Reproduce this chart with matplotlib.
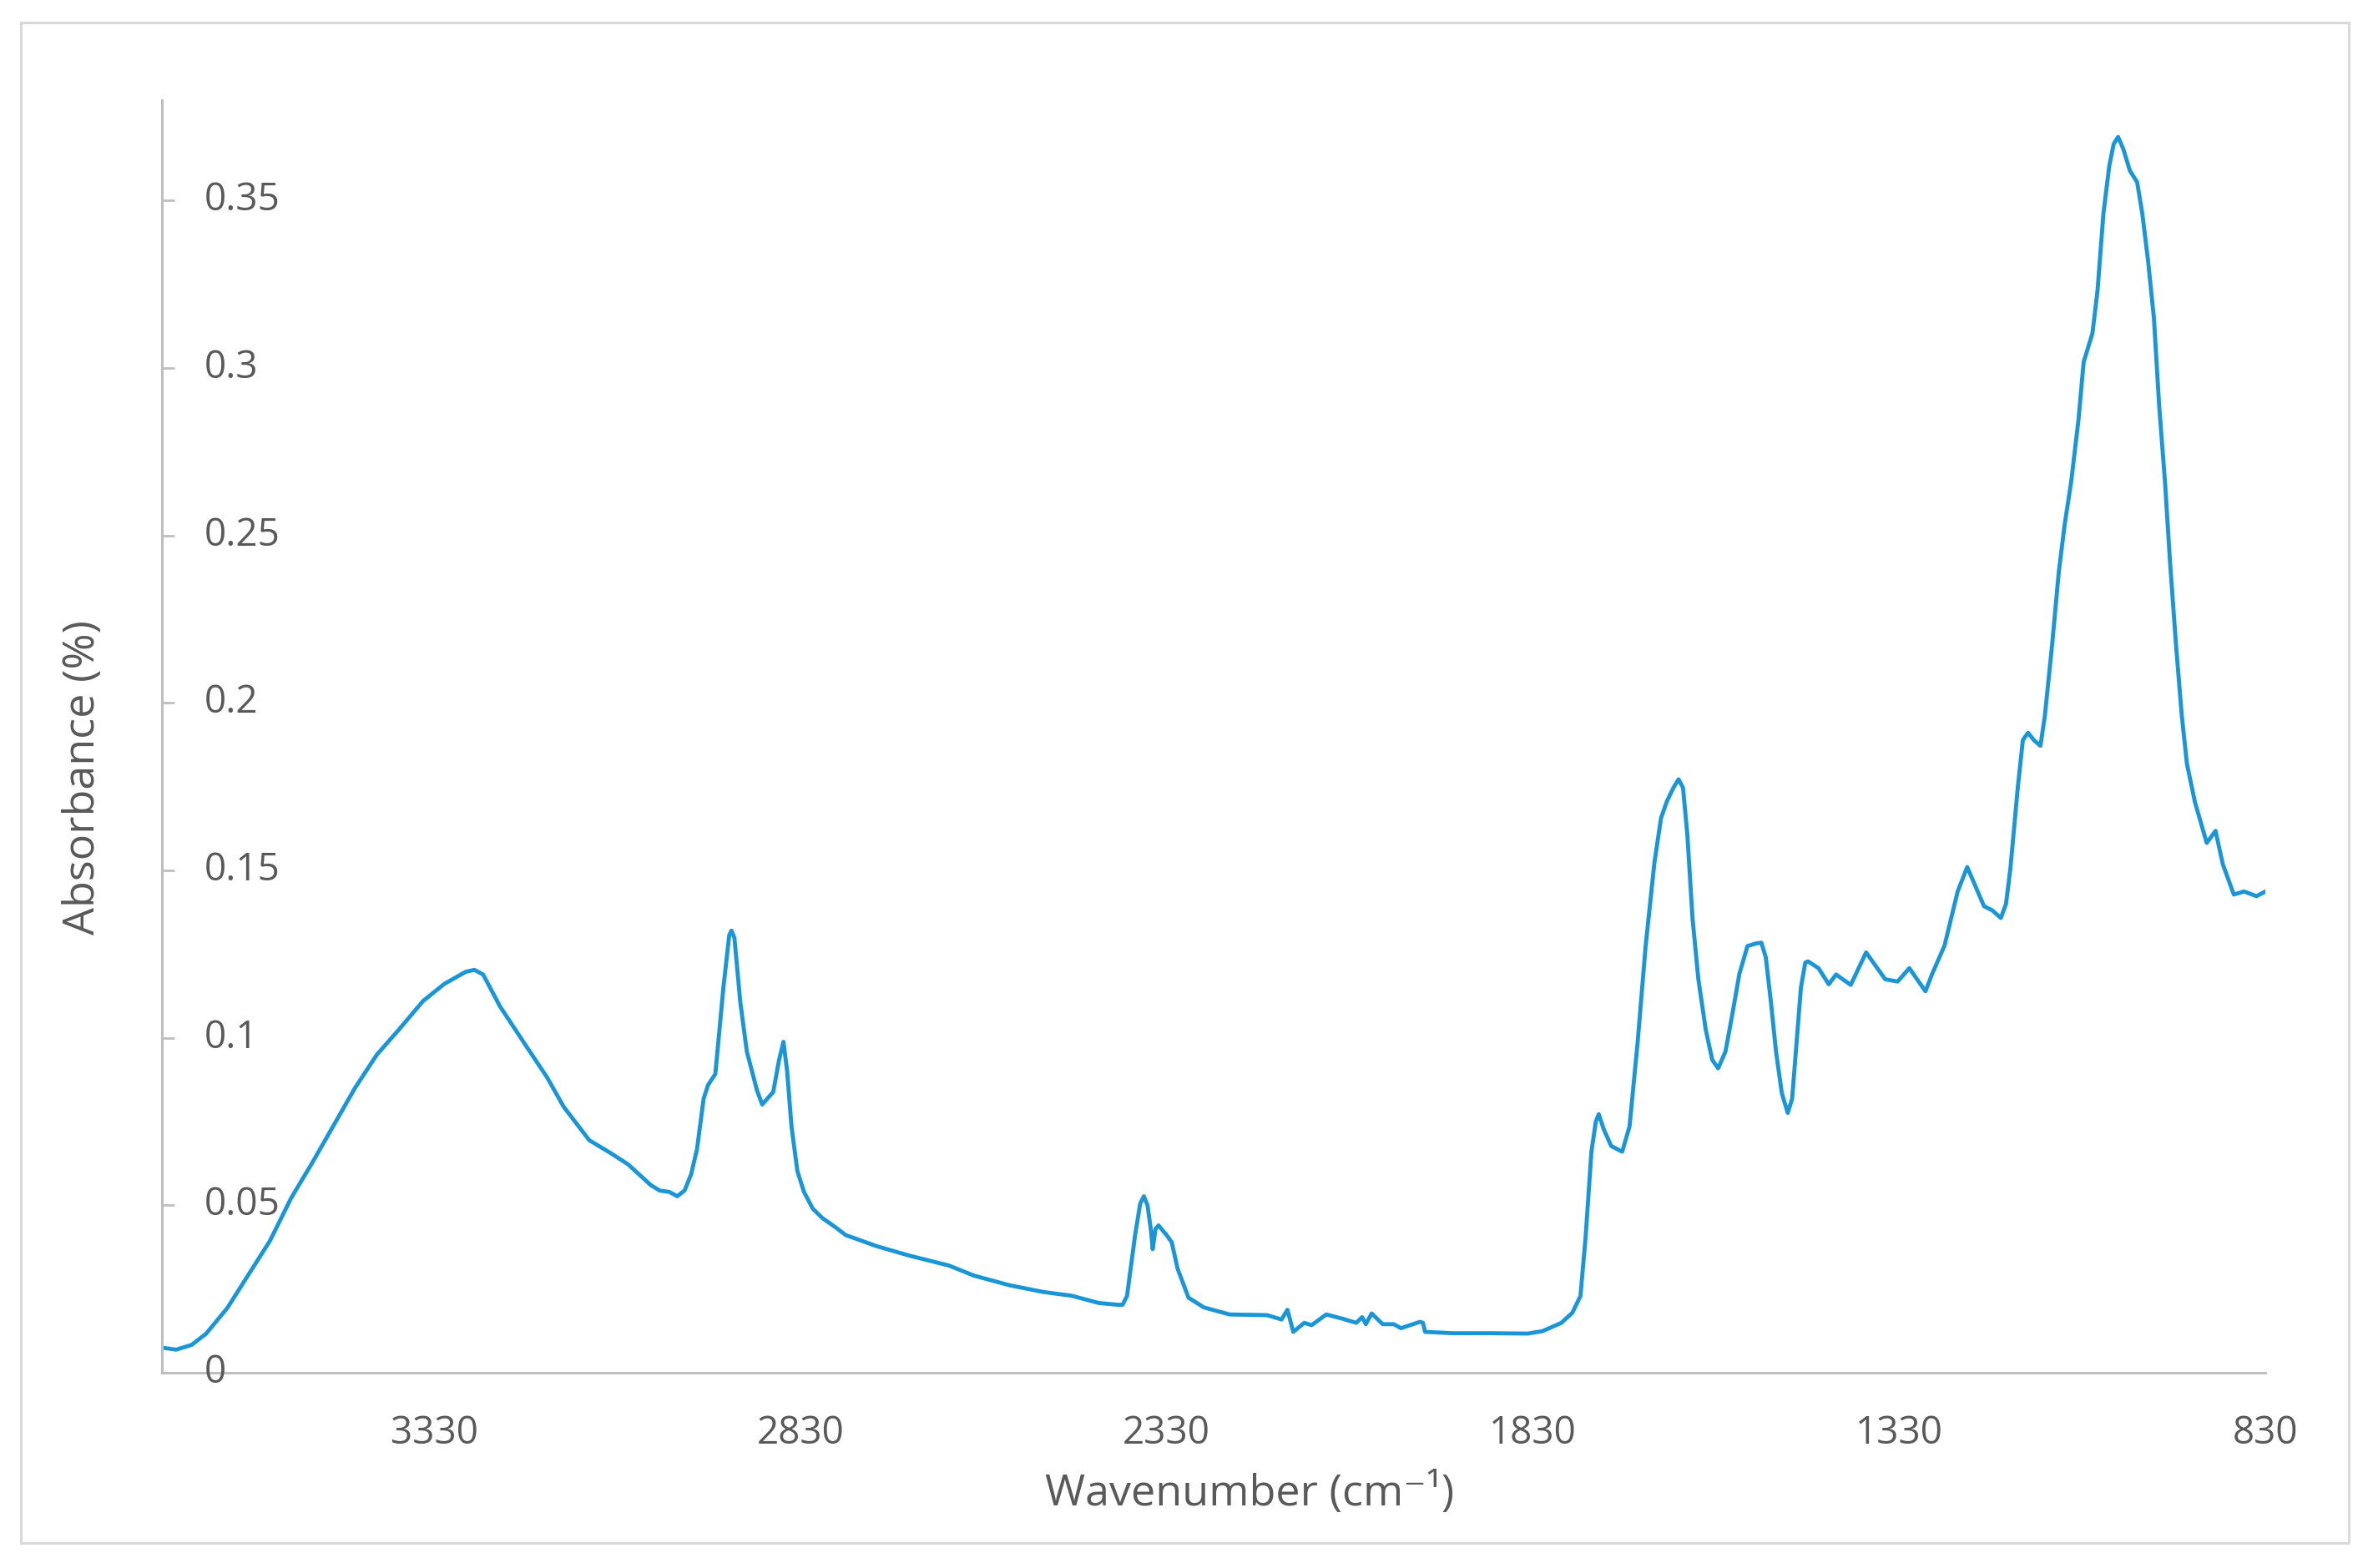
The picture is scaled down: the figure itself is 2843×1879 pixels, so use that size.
import matplotlib
matplotlib.use("Agg")
import matplotlib.pyplot as plt
import matplotlib.transforms as mtransforms
from matplotlib.patches import Rectangle

# FTIR spectrum (cm-1, absorbance)
wavenumber = [
    3699, 3682, 3661, 3641, 3612, 3583, 3554, 3525, 3496, 3467, 3438, 3408,
    3379, 3345, 3316, 3287, 3275, 3263, 3240, 3205, 3176, 3153, 3118, 3089,
    3065, 3034, 3022, 3009, 2998, 2988, 2979, 2971, 2962, 2956, 2946, 2935,
    2927, 2924, 2920, 2912, 2903, 2889, 2882, 2872, 2867, 2859, 2853, 2848,
    2842, 2834, 2825, 2813, 2800, 2783, 2768, 2726, 2680, 2627, 2593, 2544,
    2498, 2460, 2422, 2397, 2390, 2384, 2373, 2366, 2361, 2356, 2351, 2349,
    2345, 2341, 2330, 2323, 2315, 2300, 2279, 2244, 2193, 2173, 2165, 2157,
    2142, 2132, 2112, 2091, 2071, 2063, 2058, 2050, 2035, 2020, 2010, 1984,
    1980, 1977, 1939, 1888, 1837, 1817, 1791, 1776, 1765, 1758, 1750, 1744,
    1740, 1733, 1723, 1708, 1698, 1687, 1676, 1664, 1655, 1647, 1638, 1631,
    1625, 1619, 1612, 1604, 1594, 1585, 1577, 1567, 1558, 1548, 1537, 1525,
    1518, 1512, 1505, 1498, 1490, 1482, 1476, 1470, 1464, 1458, 1454, 1440,
    1426, 1416, 1396, 1375, 1349, 1332, 1316, 1294, 1285, 1268, 1250, 1237,
    1214, 1203, 1191, 1184, 1178, 1168, 1161, 1154, 1146, 1137, 1131, 1121,
    1112, 1104, 1095, 1085, 1078, 1066, 1059, 1051, 1043, 1037, 1031, 1024,
    1015, 1005, 998, 990, 982, 975, 967, 960, 952, 944, 937, 926,
    910, 898, 888, 873, 859, 842, 830,
]
absorbance = [
    0.0074, 0.0069, 0.0083, 0.0117, 0.0194, 0.0294, 0.0394, 0.0522, 0.0628, 0.0739, 0.0850, 0.0950,
    0.1022, 0.1110, 0.1161, 0.1197, 0.1203, 0.1189, 0.1094, 0.0978, 0.0883, 0.0794, 0.0694, 0.0656,
    0.0622, 0.0560, 0.0544, 0.0540, 0.0527, 0.0544, 0.0593, 0.0668, 0.0818, 0.0859, 0.0892, 0.1150,
    0.1307, 0.1320, 0.1299, 0.1108, 0.0959, 0.0842, 0.0801, 0.0826, 0.0838, 0.0934, 0.0988, 0.0901,
    0.0735, 0.0602, 0.0540, 0.0490, 0.0462, 0.0436, 0.0411, 0.0378, 0.0349, 0.0320, 0.0290, 0.0261,
    0.0241, 0.0230, 0.0208, 0.0203, 0.0203, 0.0229, 0.0410, 0.0505, 0.0527, 0.0500, 0.0420, 0.0369,
    0.0430, 0.0440, 0.0411, 0.0390, 0.0311, 0.0224, 0.0195, 0.0174, 0.0172, 0.0159, 0.0188, 0.0122,
    0.0149, 0.0142, 0.0174, 0.0162, 0.0149, 0.0166, 0.0145, 0.0177, 0.0145, 0.0145, 0.0133, 0.0152,
    0.0149, 0.0122, 0.0118, 0.0118, 0.0117, 0.0124, 0.0149, 0.0179, 0.0229, 0.0403, 0.0660, 0.0750,
    0.0772, 0.0726, 0.0677, 0.0660, 0.0735, 0.0984, 0.1274, 0.1523, 0.1656, 0.1706, 0.1747, 0.1772,
    0.1747, 0.1606, 0.1357, 0.1175, 0.1025, 0.0934, 0.0909, 0.0959, 0.1066, 0.1191, 0.1274, 0.1282,
    0.1284, 0.1241, 0.1108, 0.0959, 0.0834, 0.0776, 0.0818, 0.0984, 0.1150, 0.1225, 0.1228, 0.1208,
    0.1160, 0.1189, 0.1158, 0.1255, 0.1175, 0.1168, 0.1208, 0.1139, 0.1190, 0.1275, 0.1437, 0.1510,
    0.1393, 0.1381, 0.1358, 0.1400, 0.1506, 0.1746, 0.1889, 0.1911, 0.1889, 0.1872, 0.1961, 0.2175,
    0.2390, 0.2532, 0.2661, 0.2847, 0.3018, 0.3104, 0.3233, 0.3462, 0.3604, 0.3669, 0.3690, 0.3655,
    0.3590, 0.3555, 0.3462, 0.3319, 0.3147, 0.2890, 0.2661, 0.2418, 0.2175, 0.1961, 0.1818, 0.1703,
    0.1582, 0.1618, 0.1518, 0.1428, 0.1437, 0.1423, 0.1437,
]
assert len(wavenumber) == len(absorbance)

x_ticks = [3330, 2830, 2330, 1830, 1330, 830]
y_ticks = [0, 0.05, 0.1, 0.15, 0.2, 0.25, 0.3, 0.35]
y_tick_labels = ["0", "0.05", "0.1", "0.15", "0.2", "0.25", "0.3", "0.35"]

FONT = ["Open Sans", "DejaVu Sans"]
TEXT_COLOR = "#595959"
AXIS_COLOR = "#BFBFBF"
LINE_COLOR = "#1A96D8"

plt.rcParams["font.family"] = FONT

W, H = 2843, 1879
fig = plt.figure(figsize=(W / 100, H / 100), dpi=100)
fig.patch.set_facecolor("white")

# light outer frame like the exported chart area
fig.patches.append(Rectangle((25 / W, 1 - 1849 / H), (2814 - 25) / W, (1849 - 27) / H,
                             transform=fig.transFigure, fill=False,
                             edgecolor="#D9D9D9", linewidth=2.2))

ax = fig.add_axes([194 / W, 1 - 1645 / H, (2714 - 194) / W, (1645 - 120) / H])
ax.plot(wavenumber, absorbance, color=LINE_COLOR, linewidth=3.5,
        solid_joinstyle="round", solid_capstyle="round")

ax.set_xlim(3701.5, 830)
ax.set_ylim(0, 0.38)

for side in ["top", "right"]:
    ax.spines[side].set_visible(False)
for side in ["left", "bottom"]:
    ax.spines[side].set_color(AXIS_COLOR)
    ax.spines[side].set_linewidth(2.2)

ax.set_xticks(x_ticks)
ax.set_xticklabels([str(t) for t in x_ticks])
ax.tick_params(axis="x", length=0, pad=36, labelsize=33, labelcolor=TEXT_COLOR)

# y ticks point inwards, labels sit on the inside of the axis
ax.set_yticks(y_ticks)
ax.tick_params(axis="y", direction="in", length=11, width=2, color=AXIS_COLOR,
               labelleft=False)
trans = mtransforms.blended_transform_factory(ax.transAxes, ax.transData)
for val, lab in zip(y_ticks, y_tick_labels):
    ax.text(0.0200, val, lab, transform=trans, ha="left", va="center",
            fontsize=33, color=TEXT_COLOR)

fig.text(1497 / W, 1 - 1790 / H, "Wavenumber (cm\u207b\u00b9)", ha="center", va="center",
         fontsize=37.5, color=TEXT_COLOR)
fig.text(100 / W, 1 - 931 / H, "Absorbance (%)", ha="center", va="center",
         rotation=90, fontsize=37.5, color=TEXT_COLOR)

fig.savefig("out.png", dpi=100)
